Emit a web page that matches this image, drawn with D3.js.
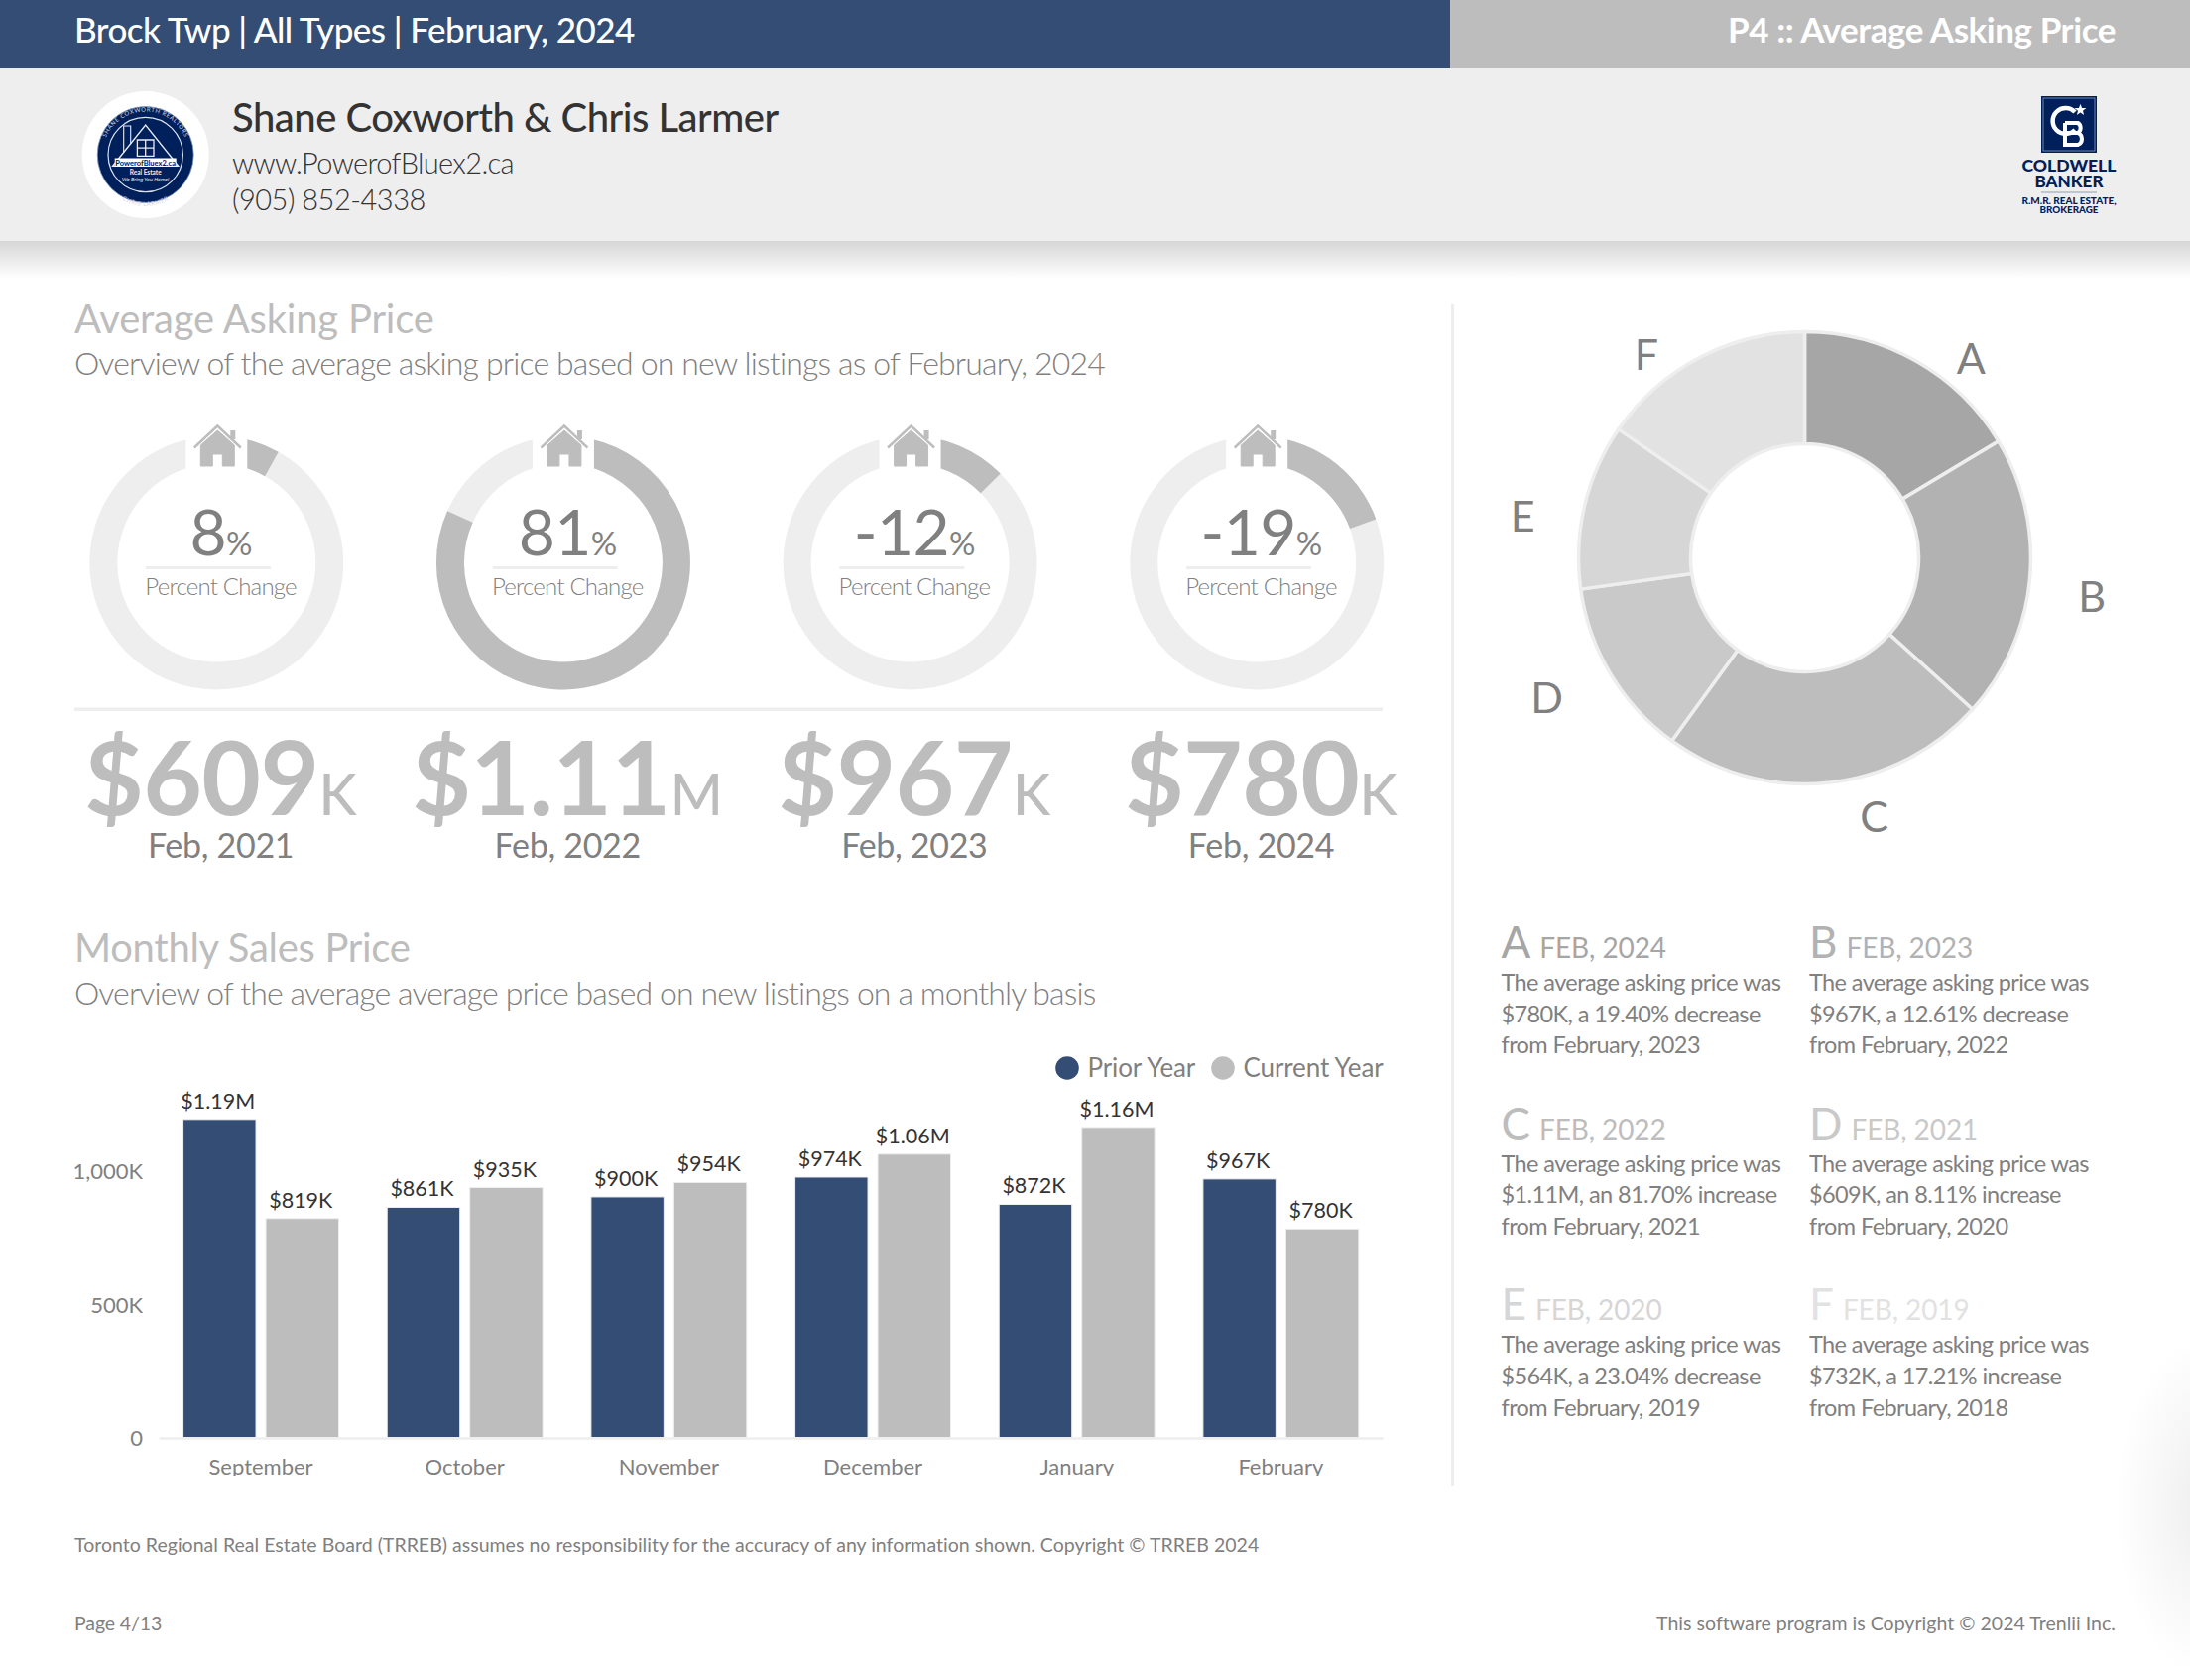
<!DOCTYPE html>
<html><head><meta charset="utf-8">
<script src="https://cdn.jsdelivr.net/npm/d3@7"></script>
<style>
html,body{margin:0;padding:0;background:#fff}
svg{display:block}
text{font-family:Lato,sans-serif}
</style></head><body>
<svg id="c" width="2208" height="1694" xmlns="http://www.w3.org/2000/svg"></svg>
<script>
// ---- data ----
const ringPercents = [8.11, 81.70, -12.61, -19.40];
const ringPrices = ["$609", "$1.11", "$967", "$780"];
const ringUnits = ["K", "M", "K", "K"];
const ringDates = ["Feb, 2021", "Feb, 2022", "Feb, 2023", "Feb, 2024"];

const months = ["September","October","November","December","January","February"];
const priorYear = [1190000, 861000, 900000, 974000, 872000, 967000];
const currentYear = [819000, 935000, 954000, 1060000, 1160000, 780000];
const priorLabels = ["$1.19M","$861K","$900K","$974K","$872K","$967K"];
const currentLabels = ["$819K","$935K","$954K","$1.06M","$1.16M","$780K"];
const yTicks = [0, 500000, 1000000];
const seriesNames = ["Prior Year","Current Year"];

const pieLetters = ["A","B","C","D","E","F"];
const pieValues = [780, 967, 1110, 609, 564, 732];
const pieColors = ["#a6a6a6","#b2b2b2","#bdbdbd","#c9c9c9","#d6d6d6","#e2e2e2"];
const pieDates = ["FEB, 2024","FEB, 2023","FEB, 2022","FEB, 2021","FEB, 2020","FEB, 2019"];
const pieNotes = [
 ["The average asking price was","$780K, a 19.40% decrease","from February, 2023"],
 ["The average asking price was","$967K, a 12.61% decrease","from February, 2022"],
 ["The average asking price was","$1.11M, an 81.70% increase","from February, 2021"],
 ["The average asking price was","$609K, an 8.11% increase","from February, 2020"],
 ["The average asking price was","$564K, a 23.04% decrease","from February, 2019"],
 ["The average asking price was","$732K, a 17.21% increase","from February, 2018"]
];

// ---- palette ----
const NAVY="#334d75", GREY="#bdbdbd", PANEL="#eeeeee", MID="#808080", DARK="#333333", LOGO="#00205b";

const svg=d3.select("#c");
const defs=svg.append("defs");
const sh=defs.append("linearGradient").attr("id","shadow").attr("x1",0).attr("y1",0).attr("x2",0).attr("y2",1);
sh.append("stop").attr("offset",0).attr("stop-color","#d6d6d6");
sh.append("stop").attr("offset",1).attr("stop-color","#ffffff");
const cg=defs.append("radialGradient").attr("id","corner");
cg.append("stop").attr("offset",0).attr("stop-color","#ececec");
cg.append("stop").attr("offset",0.45).attr("stop-color","#f5f5f5");
cg.append("stop").attr("offset",1).attr("stop-color","#ffffff");
defs.append("path").attr("id","ringTop").attr("d","M-43.5,0 A43.5,43.5 0 0 1 43.5,0");
defs.append("path").attr("id","ringBot").attr("d","M-46,6 A46,46 0 0 0 46,6");

function txt(g,x,y,s,size,fill,weight,anchor,spacing){
  return g.append("text").attr("x",x).attr("y",y).text(s)
    .attr("font-size",size).attr("fill",fill).attr("font-weight",weight||400)
    .attr("text-anchor",anchor||"start").attr("letter-spacing",spacing||0);
}

// ---- page chrome ----
svg.append("rect").attr("width",2208).attr("height",1694).attr("fill","#fff");
svg.append("ellipse").attr("cx",2232).attr("cy",1520).attr("rx",100).attr("ry",175).attr("fill","url(#corner)");
svg.append("rect").attr("y",243).attr("width",2208).attr("height",38).attr("fill","url(#shadow)");
svg.append("rect").attr("y",69).attr("width",2208).attr("height",174).attr("fill",PANEL);
svg.append("rect").attr("width",1462).attr("height",69).attr("fill",NAVY);
svg.append("rect").attr("x",1462).attr("width",746).attr("height",69).attr("fill",GREY);
txt(svg,75,43,"Brock Twp | All Types | February, 2024",35,"#fff",500,"start",-0.55);
txt(svg,2133,43,"P4 :: Average Asking Price",35,"#fff",700,"end",-0.45);

txt(svg,234,133,"Shane Coxworth & Chris Larmer",40,DARK,500,"start",-0.5);
txt(svg,234,175,"www.PowerofBluex2.ca",29,DARK,300,"start",-0.65);
txt(svg,234,212,"(905) 852-4338",29,DARK,300,"start",-0.5);

// left logo
(function(){
  const g=svg.append("g").attr("transform","translate(146.7,156)");
  g.append("circle").attr("r",64).attr("fill","#fff");
  g.append("circle").attr("r",48.5).attr("fill",LOGO).attr("stroke","#8d9dbc").attr("stroke-width",0.8);
  g.append("circle").attr("r",37.7).attr("fill","none").attr("stroke","#dfe4ee").attr("stroke-width",1.2);
  g.append("path").attr("d","M-33,11.3 L0,-30 L33,11.3 Z").attr("fill","none").attr("stroke","#e8ecf4").attr("stroke-width",1.4);
  g.append("path").attr("d","M-22,-2 L-22,-29 L-15,-29 L-15,-11").attr("fill","none").attr("stroke","#e8ecf4").attr("stroke-width",1.1);
  g.append("path").attr("d","M-8.3,-15 H8.3 V1.3 H-8.3 Z M0,-15 V1.3 M-8.3,-6.9 H8.3").attr("fill","none").attr("stroke","#e8ecf4").attr("stroke-width",1.3);
  g.append("rect").attr("x",-31).attr("y",3.5).attr("width",62).attr("height",8.5).attr("fill","#fff");
  txt(g,0,10.5,"PowerofBluex2.ca",7.5,LOGO,700,"middle");
  txt(g,0,19.5,"Real Estate",6.5,"#e8ecf4",700,"middle");
  txt(g,0,26.5,"We Bring You Home!",5.6,"#e8ecf4",400,"middle").attr("font-style","italic");
  g.append("text").attr("font-size",6).attr("fill","#cfd6e6").attr("letter-spacing",0.6)
    .append("textPath").attr("href","#ringTop").attr("startOffset","50%").attr("text-anchor","middle").text("SHANE COXWORTH     REALTORS");
  g.append("text").attr("font-size",6).attr("fill","#cfd6e6").attr("letter-spacing",0.6)
    .append("textPath").attr("href","#ringBot").attr("startOffset","50%").attr("text-anchor","middle").text("CHRIS LARMER");
})();

// right logo
(function(){
  const g=svg.append("g");
  g.append("rect").attr("x",2058).attr("y",97).attr("width",56).attr("height",57).attr("fill",LOGO);
  g.append("rect").attr("x",2060).attr("y",99).attr("width",52).attr("height",53).attr("fill","none").attr("stroke","#8d9dbc").attr("stroke-width",0.8);
  g.append("path").attr("d","M2092,113 A13,13 0 1 0 2092,131").attr("fill","none").attr("stroke","#fff").attr("stroke-width",4.5);
  g.append("path").attr("d","M2082,124 H2095 A6,6 0 0 1 2095,134 H2084 M2095,134 A6.5,6.5 0 0 1 2095,146 H2082 V124").attr("fill","none").attr("stroke","#fff").attr("stroke-width",4);
  const star=d3.range(10).map(i=>{const r=i%2?2.6:6.2,a=i*Math.PI/5;return [2097.5+r*Math.sin(a),111-r*Math.cos(a)];});
  g.append("path").attr("d",d3.line()(star)+"Z").attr("fill","#fff");
  txt(g,2086,173,"COLDWELL",16.5,LOGO,900,"middle").attr("textLength",95).attr("lengthAdjust","spacingAndGlyphs");
  txt(g,2086,189,"BANKER",16.5,LOGO,900,"middle").attr("textLength",69).attr("lengthAdjust","spacingAndGlyphs");
  g.append("rect").attr("x",2058).attr("y",193.5).attr("width",56).attr("height",1).attr("fill","#8d9dbc");
  txt(g,2086,206,"R.M.R. REAL ESTATE,",9,LOGO,900,"middle").attr("textLength",95).attr("lengthAdjust","spacingAndGlyphs");
  txt(g,2086,214.5,"BROKERAGE",9,LOGO,900,"middle").attr("textLength",59).attr("lengthAdjust","spacingAndGlyphs");
})();

// section headers
txt(svg,75,336,"Average Asking Price",40,GREY,400,"start",-0.2);
txt(svg,75,378,"Overview of the average asking price based on new listings as of February, 2024",32,MID,300,"start",-0.85);
txt(svg,75,970,"Monthly Sales Price",40,GREY,400,"start",-0.3);
txt(svg,75,1013,"Overview of the average average price based on new listings on a monthly basis",32,MID,300,"start",-0.88);

// divider
svg.append("rect").attr("x",1463).attr("y",307).attr("width",3).attr("height",1191).attr("fill",PANEL);
svg.append("rect").attr("x",75).attr("y",713.5).attr("width",1319).attr("height",3.5).attr("fill",PANEL);

// ---- rings ----
const ringX=d3.scalePoint().domain(d3.range(4)).range([218.3,1267.2]);
const ringArc=d3.arc().innerRadius(100).outerRadius(128);
const housePath="M-17,-1 L0,-16 L17,-1 V20 H5 V8 H-5 V20 H-17 Z";
ringPercents.forEach((p,i)=>{
  const cx=ringX(i), g=svg.append("g").attr("transform",`translate(${cx},567.5)`);
  g.append("path").attr("d",ringArc({startAngle:0,endAngle:2*Math.PI})).attr("fill",PANEL);
  g.append("path").attr("d",ringArc({startAngle:0,endAngle:Math.abs(p)/100*2*Math.PI})).attr("fill",GREY);
  g.append("rect").attr("x",-31).attr("y",-136).attr("width",62).attr("height",42).attr("fill","#fff");
  const h=g.append("g").attr("transform","translate(1,-117.5)");
  h.append("path").attr("d",housePath).attr("fill",GREY).attr("stroke",GREY).attr("stroke-width",1).attr("stroke-linejoin","round");
  h.append("path").attr("d","M-23.5,1.5 L0,-20.5 L23.5,1.5").attr("fill","none").attr("stroke",GREY).attr("stroke-width",2.4);
  h.append("rect").attr("x",13).attr("y",-16).attr("width",5).attr("height",9).attr("fill",GREY);

  const tx=cx+4.3;
  const t=svg.append("text").attr("x",tx).attr("y",560).attr("text-anchor","middle").attr("fill",MID).attr("letter-spacing",-0.6);
  t.append("tspan").attr("font-size",64).text(Math.trunc(p));
  t.append("tspan").attr("font-size",33).text("%");
  svg.append("rect").attr("x",tx-75.5).attr("y",571).attr("width",126).attr("height",3).attr("fill",PANEL);
  txt(svg,tx,600,"Percent Change",24,MID,300,"middle",-0.8);

  const v=svg.append("text").attr("x",tx-0.5).attr("y",822).attr("text-anchor","middle").attr("fill",GREY).attr("letter-spacing",-0.6);
  v.append("tspan").attr("font-size",103).attr("font-weight",700).text(ringPrices[i]);
  v.append("tspan").attr("font-size",57).attr("font-weight",500).text(ringUnits[i]);
  txt(svg,tx,865,ringDates[i],34,MID,400,"middle",-0.3);
});

// ---- bars ----
const x0=d3.scaleBand().domain(months).range([160.2,1394.2]).paddingInner(0.237).paddingOuter(0.1185);
const x1=d3.scaleBand().domain(seriesNames).range([0,x0.bandwidth()]).paddingInner(0.12);
const y=d3.scaleLinear().domain([0,1200000]).range([1449.5,1126.1]);
const seriesColor=d3.scaleOrdinal().domain(seriesNames).range([NAVY,GREY]);

const rows=months.map((m,i)=>({m,vals:[
  {s:seriesNames[0],v:priorYear[i],l:priorLabels[i]},
  {s:seriesNames[1],v:currentYear[i],l:currentLabels[i]}]}));
const grp=svg.append("g").selectAll("g").data(rows).join("g").attr("transform",d=>`translate(${x0(d.m)},0)`);
grp.selectAll("rect").data(d=>d.vals).join("rect")
  .attr("x",d=>x1(d.s)).attr("width",x1.bandwidth())
  .attr("y",d=>y(d.v)).attr("height",d=>y(0)-y(d.v))
  .attr("fill",d=>seriesColor(d.s)).attr("stroke",PANEL).attr("stroke-width",1);
grp.selectAll("text").data(d=>d.vals).join("text")
  .attr("x",d=>x1(d.s)+x1.bandwidth()/2-1.5).attr("y",d=>y(d.v)-11)
  .attr("text-anchor","middle").attr("font-size",21.5).attr("fill",DARK).text(d=>d.l);

const axisY=svg.append("g").attr("transform","translate(144,0)")
  .call(d3.axisLeft(y).tickValues(yTicks).tickSize(0).tickPadding(0).tickFormat(d=>d===0?"0":d3.format(",")(d/1000)+"K"));
axisY.select(".domain").remove();
axisY.selectAll("text").attr("font-size",22).attr("fill",MID).attr("font-family","Lato").attr("dy","0.38em");

const axisX=svg.append("g").attr("transform","translate(0,1450)").attr("clip-path","url(#catClipLocal)")
  .call(d3.axisBottom(x0).tickSize(0).tickPadding(0));
defs.append("clipPath").attr("id","catClipLocal").append("rect").attr("x",100).attr("y",-5).attr("width",1320).attr("height",43);
axisX.select(".domain").attr("stroke",PANEL).attr("stroke-width",2.5);
axisX.selectAll("text").attr("font-size",22).attr("fill",MID).attr("font-family","Lato").attr("dy",0).attr("y",37);

// legend
const legendX=[1076,1233];
seriesNames.forEach((s,i)=>{
  svg.append("circle").attr("cx",legendX[i]).attr("cy",1077).attr("r",11.8).attr("fill",seriesColor(s));
  txt(svg,legendX[i]+20.5,1086,s,26,MID,400,"start",-0.12);
});

// ---- pie ----
const pieG=svg.append("g").attr("transform","translate(1819.5,562.5)");
const pie=d3.pie().sort(null)(pieValues);
const pieArc=d3.arc().innerRadius(115).outerRadius(228);
const labelArc=d3.arc().innerRadius(280).outerRadius(280);
const labelNudge=[[30,43],[11,12],[41,-17.5],[-20,-3],[-12,23],[-29.5,43]];
pieG.selectAll("path").data(pie).join("path").attr("d",pieArc)
  .attr("fill",(d,i)=>pieColors[i]).attr("stroke",PANEL).attr("stroke-width",3.5);
pieG.selectAll("text").data(pie).join("text")
  .attr("x",(d,i)=>labelArc.centroid(d)[0]+labelNudge[i][0])
  .attr("y",(d,i)=>labelArc.centroid(d)[1]+labelNudge[i][1])
  .attr("dy","0.36em").attr("text-anchor","middle").attr("font-size",43).attr("fill",MID)
  .text((d,i)=>pieLetters[i]);

// notes
pieLetters.forEach((l,i)=>{
  const nx=i%2?1824:1513.5, ny=965.8+Math.floor(i/2)*182.8;
  const t=svg.append("text").attr("x",nx).attr("y",ny).attr("fill",pieColors[i]);
  t.append("tspan").attr("font-size",44).text(l);
  t.append("tspan").attr("font-size",28).attr("dx",9).attr("letter-spacing",-0.1).text(pieDates[i]);
  pieNotes[i].forEach((s,j)=>txt(svg,nx,ny+33+j*31.7,s,23.5,MID,400,"start",-0.6));
});

// footer
txt(svg,75,1565,"Toronto Regional Real Estate Board (TRREB) assumes no responsibility for the accuracy of any information shown. Copyright © TRREB 2024",19.5,MID,400,"start",0.02);
txt(svg,75,1644,"Page 4/13",19.5,MID,400,"start",-0.1);
txt(svg,2133,1644,"This software program is Copyright © 2024 Trenlii Inc.",19.5,MID,400,"end",0.03);
</script>
</body></html>
